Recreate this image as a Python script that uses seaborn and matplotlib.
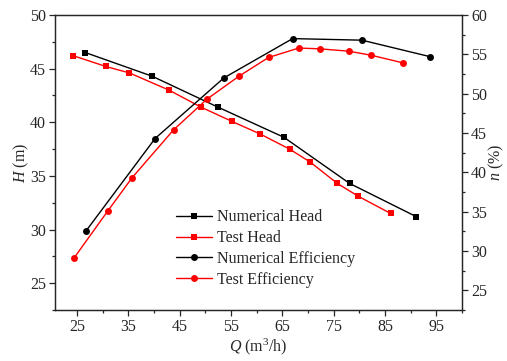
import matplotlib
matplotlib.use("Agg")
import matplotlib.pyplot as plt
from matplotlib.ticker import MultipleLocator
import seaborn as sns
import pandas as pd

# Flow rate Q (m3/h), head H (m) and efficiency (%)
num_q = [26.6, 39.6, 52.5, 65.3, 78.1, 91.1]
num_head = [46.5, 44.3, 41.4, 38.6, 34.3, 31.2]
test_head_q = [24.3, 30.6, 35.2, 42.9, 49.2, 55.1, 60.7, 66.4, 70.4, 75.7, 79.8, 86.1]
test_head = [46.2, 45.2, 44.6, 43.0, 41.4, 40.1, 38.9, 37.5, 36.3, 34.3, 33.1, 31.5]
num_eff_q = [26.8, 40.2, 53.6, 67.0, 80.5, 93.8]
num_eff = [32.6, 44.3, 52.0, 57.0, 56.8, 54.7]
test_eff_q = [24.4, 31.0, 35.7, 43.8, 50.3, 56.5, 62.3, 68.2, 72.3, 77.9, 82.2, 88.6]
test_eff = [29.1, 35.1, 39.3, 45.4, 49.3, 52.2, 54.6, 55.8, 55.7, 55.4, 54.9, 53.9]

x_ticks = [25, 35, 45, 55, 65, 75, 85, 95]
h_ticks = [25, 30, 35, 40, 45, 50]
eff_ticks = [25, 30, 35, 40, 45, 50, 55, 60]

sns.set_style("ticks")
plt.rcParams["font.family"] = ["Liberation Serif", "DejaVu Serif"]
plt.rcParams["mathtext.fontset"] = "custom"
plt.rcParams["mathtext.rm"] = "Liberation Serif"
plt.rcParams["mathtext.it"] = "Liberation Serif:italic"
plt.rcParams["font.size"] = 11.5

fig = plt.figure(figsize=(5.07, 3.61), dpi=100)
ax = fig.add_axes([55 / 507, 1 - 310 / 361, (462 - 55) / 507, (310 - 15) / 361])
ax2 = ax.twinx()

head_num = pd.DataFrame({"Q": num_q, "H": num_head})
head_test = pd.DataFrame({"Q": test_head_q, "H": test_head})
eff_num = pd.DataFrame({"Q": num_eff_q, "E": num_eff})
eff_test = pd.DataFrame({"Q": test_eff_q, "E": test_eff})

lw = 1.0
sns.lineplot(data=head_num, x="Q", y="H", ax=ax, color="black", marker="s",
             markersize=4.5, markeredgewidth=0, linewidth=lw, sort=False,
             label="Numerical Head", legend=False)
sns.lineplot(data=head_test, x="Q", y="H", ax=ax, color="red", marker="s",
             markersize=4.5, markeredgewidth=0, linewidth=lw, sort=False,
             label="Test Head", legend=False)
sns.lineplot(data=eff_num, x="Q", y="E", ax=ax2, color="black", marker="o",
             markersize=5, markeredgewidth=0, linewidth=lw, sort=False,
             label="Numerical Efficiency", legend=False)
sns.lineplot(data=eff_test, x="Q", y="E", ax=ax2, color="red", marker="o",
             markersize=5, markeredgewidth=0, linewidth=lw, sort=False,
             label="Test Efficiency", legend=False)

ax.set_xlim(20.7, 100)
ax.set_ylim(22.5, 50)
ax2.set_ylim(22.5, 60)

ax.set_xticks(x_ticks)
ax.xaxis.set_minor_locator(MultipleLocator(5))
ax.set_yticks(h_ticks)
ax.yaxis.set_minor_locator(MultipleLocator(2.5))
ax2.set_yticks(eff_ticks)
ax2.yaxis.set_minor_locator(MultipleLocator(2.5))

for a in (ax, ax2):
    for s in a.spines.values():
        s.set_linewidth(0.9)
        s.set_visible(True)
    a.tick_params(which="major", direction="out", length=4.5, width=0.9, pad=2)
    a.tick_params(which="minor", direction="out", length=2.5, width=0.9)
ax.tick_params(top=False, right=False, which="both")
ax2.tick_params(left=False, top=False, which="both")

ax.set_xlabel("$Q$ (m$^3$/h)", labelpad=1)
ax.set_ylabel("$H$ (m)", labelpad=-1)
ax2.set_ylabel("$n$ (%)", labelpad=0)

h1, l1 = ax.get_legend_handles_labels()
h2, l2 = ax2.get_legend_handles_labels()
ax.legend(h1 + h2, l1 + l2, loc="center left", bbox_to_anchor=(0.2776, 0.2085),
          frameon=False, borderpad=0, handlelength=2.25, handletextpad=0.3,
          labelspacing=0.3, fontsize=11.5)

fig.savefig("out.png", dpi=100)
